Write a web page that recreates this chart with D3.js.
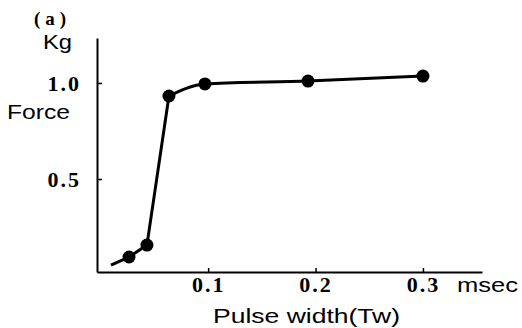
<!DOCTYPE html>
<html>
<head>
<meta charset="utf-8">
<script src="https://cdn.jsdelivr.net/npm/d3@7"></script>
<style>
  body { margin: 0; background: #fff; }
  svg { display: block; }
  .serif { font-family: "Liberation Serif", serif; font-weight: bold; }
  .sans { font-family: "Liberation Sans", Arial, sans-serif; }
</style>
</head>
<body>
<div id="chart"></div>
<script>
// measured points (pulse width in msec, force in Kg)
var pulseWidth = [0.0263, 0.043, 0.0635, 0.097, 0.193, 0.3];
var force = [0.094, 0.156, 0.932, 0.995, 1.01, 1.036];
// the drawn curve starts a bit before the first point
var curveStart = { x: 0.0095, y: 0.052 };

var xTicks = [0.1, 0.2, 0.3];
var yTicks = [0.5, 1.0];

var width = 522, height = 328;

var svg = d3.select("#chart").append("svg")
  .attr("width", width)
  .attr("height", height);

var x = d3.scaleLinear().domain([-0.0035, 0.355]).range([97, 482]);
var y = d3.scaleLinear().domain([0.016, 1.234]).range([272, 38]);

var points = pulseWidth.map(function (d, i) { return { x: d, y: force[i] } });

// x axis
var xAxis = svg.append("g")
  .attr("transform", "translate(0," + y.range()[0] + ")")
  .call(d3.axisBottom(x).tickValues(xTicks).tickFormat(d3.format(".1f"))
    .tickSize(-4).tickSizeOuter(0).tickPadding(4));

// y axis
var yAxis = svg.append("g")
  .attr("transform", "translate(" + x.range()[0] + ",0)")
  .call(d3.axisLeft(y).tickValues(yTicks).tickFormat(d3.format(".1f"))
    .tickSize(-5).tickSizeOuter(0).tickPadding(16));

[xAxis, yAxis].forEach(function (ax) {
  ax.select(".domain").attr("stroke", "#000").attr("stroke-width", 2);
  ax.selectAll(".tick line").attr("stroke", "#000").attr("stroke-width", 1.5);
  ax.selectAll(".tick text")
    .attr("class", "serif")
    .attr("fill", "#000")
    .style("font-size", "22px")
    .style("letter-spacing", "2px");
});

var lineGen = d3.line()
  .x(function (d) { return x(d.x) })
  .y(function (d) { return y(d.y) });

// steep straight rise, then a rounded knee into the plateau
var rise = [curveStart].concat(points.slice(0, 3));
var plateau = points.slice(2);

svg.append("path")
  .datum(rise)
  .attr("fill", "none")
  .attr("stroke", "#000")
  .attr("stroke-width", 3)
  .attr("stroke-linejoin", "round")
  .attr("d", lineGen);

svg.append("path")
  .datum(plateau)
  .attr("fill", "none")
  .attr("stroke", "#000")
  .attr("stroke-width", 3)
  .attr("d", lineGen.curve(d3.curveMonotoneX));

svg.selectAll("circle.pt")
  .data(points)
  .enter().append("circle")
  .attr("class", "pt")
  .attr("cx", function (d) { return x(d.x) })
  .attr("cy", function (d) { return y(d.y) })
  .attr("r", 6.5)
  .attr("fill", "#000");

// labels
svg.append("text").attr("class", "serif")
  .attr("x", 34).attr("y", 25)
  .style("font-size", "19px").style("letter-spacing", "5px")
  .text("(a)");

svg.append("text").attr("class", "sans")
  .attr("x", 43).attr("y", 49)
  .style("font-size", "20px")
  .attr("textLength", 29).attr("lengthAdjust", "spacingAndGlyphs")
  .text("Kg");

svg.append("text").attr("class", "sans")
  .attr("x", 7).attr("y", 119)
  .style("font-size", "21px")
  .attr("textLength", 63).attr("lengthAdjust", "spacingAndGlyphs")
  .text("Force");

svg.append("text").attr("class", "sans")
  .attr("x", 457).attr("y", 292)
  .style("font-size", "21px")
  .attr("textLength", 61).attr("lengthAdjust", "spacingAndGlyphs")
  .text("msec");

svg.append("text").attr("class", "sans")
  .attr("x", 213).attr("y", 323)
  .style("font-size", "21px")
  .attr("textLength", 187).attr("lengthAdjust", "spacingAndGlyphs")
  .text("Pulse width(Tw)");
</script>
</body>
</html>
